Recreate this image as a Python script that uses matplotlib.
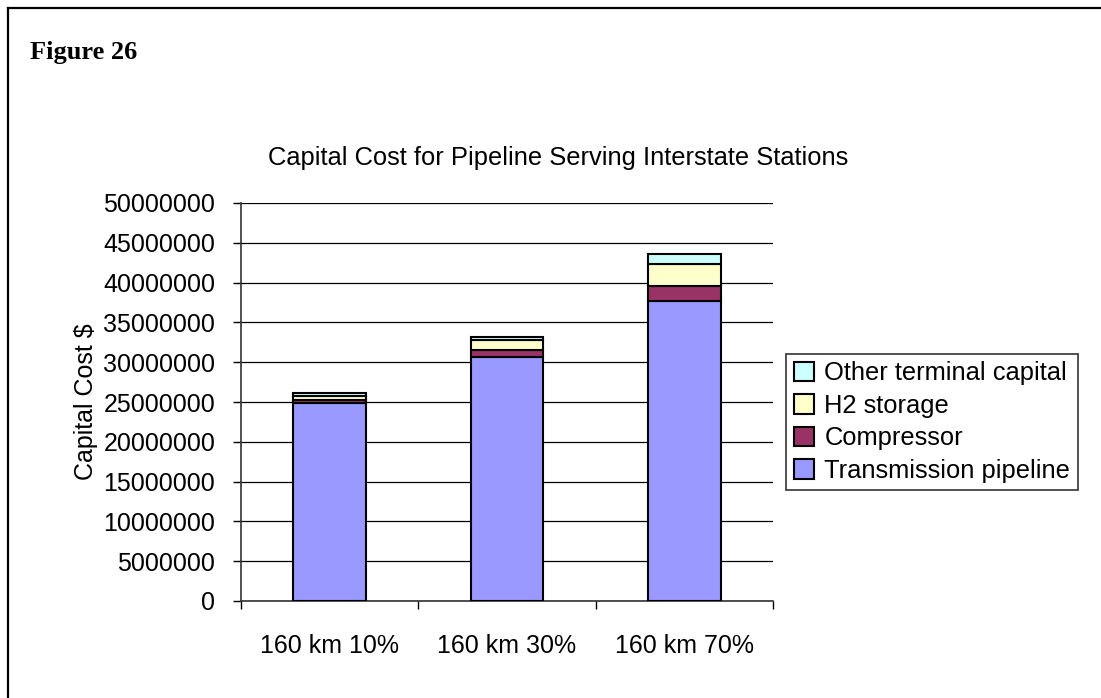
import matplotlib.pyplot as plt
import numpy as np
from matplotlib.lines import Line2D

plt.rcParams['font.family'] = ['Liberation Sans', 'DejaVu Sans']

categories = ["160 km 10%", "160 km 30%", "160 km 70%"]
transmission = [24900000, 30700000, 37700000]
compressor = [400000, 800000, 1900000]
h2_storage = [400000, 1300000, 2700000]
other_terminal = [400000, 400000, 1250000]

series = [
    ("Transmission pipeline", transmission, "#9999FF"),
    ("Compressor", compressor, "#993366"),
    ("H2 storage", h2_storage, "#FFFFCC"),
    ("Other terminal capital", other_terminal, "#CCFFFF"),
]

W, H = 1101, 698
fig = plt.figure(figsize=(W / 100, H / 100), dpi=100)
ax = fig.add_axes([241 / W, 1 - 601 / H, 532 / W, 398 / H])

x = np.arange(len(categories))
bottom = np.zeros(len(categories))
handles = []
for name, vals, color in series:
    b = ax.bar(x, vals, width=0.41, bottom=bottom, color=color,
               edgecolor="black", linewidth=1.5, label=name, zorder=3)
    bottom += np.array(vals)
    handles.append(b)

ax.set_xlim(-0.5, 2.5)
ax.set_ylim(0, 50000000)
ax.set_yticks(np.arange(0, 50000001, 5000000))
ax.set_yticklabels([str(v) for v in range(0, 50000001, 5000000)], fontsize=18)
ax.yaxis.grid(True, color="black", linewidth=0.9, zorder=0)

ax.set_xticks([-0.5, 0.5, 1.5, 2.5])
ax.set_xticklabels([])
ax.set_xticks(x, minor=True)
ax.set_xticklabels(categories, minor=True, fontsize=18)
ax.tick_params(axis="x", which="minor", length=0, pad=24)
ax.tick_params(axis="x", which="major", length=6, width=1, direction="out")
ax.tick_params(axis="y", length=6, width=1, direction="out", pad=12.5)

for s in ["top", "right"]:
    ax.spines[s].set_visible(False)
for s in ["left", "bottom"]:
    ax.spines[s].set_color("#333333")
    ax.spines[s].set_linewidth(1.2)

ax.set_ylabel("Capital Cost $", fontsize=18, labelpad=4)

fig.text(558 / W, 1 - 158 / H, "Capital Cost for Pipeline Serving Interstate Stations",
         ha="center", va="center", fontsize=18.4)
fig.text(30 / W, 1 - 52 / H, "Figure 26", ha="left", va="center",
         fontsize=19, fontweight="bold", family=["Liberation Serif", "DejaVu Serif"])

leg = ax.legend(handles[::-1], [s[0] for s in series][::-1],
                loc="center left", bbox_to_anchor=(786 / W, 1 - 422 / H),
                bbox_transform=fig.transFigure, fontsize=18.4, frameon=True,
                fancybox=False, edgecolor="black", handlelength=0.8,
                handleheight=0.8, handletextpad=0.4, labelspacing=0.33,
                borderpad=0.3, borderaxespad=0)
leg.get_frame().set_linewidth(1.2)

# outer frame (top and left edges visible in the crop)
fig.add_artist(Line2D([8 / W, 1], [1 - 8 / H, 1 - 8 / H], color="black", linewidth=1.6))
fig.add_artist(Line2D([8 / W, 8 / W], [0, 1 - 8 / H], color="black", linewidth=1.6))

fig.savefig("out.png", dpi=100)
